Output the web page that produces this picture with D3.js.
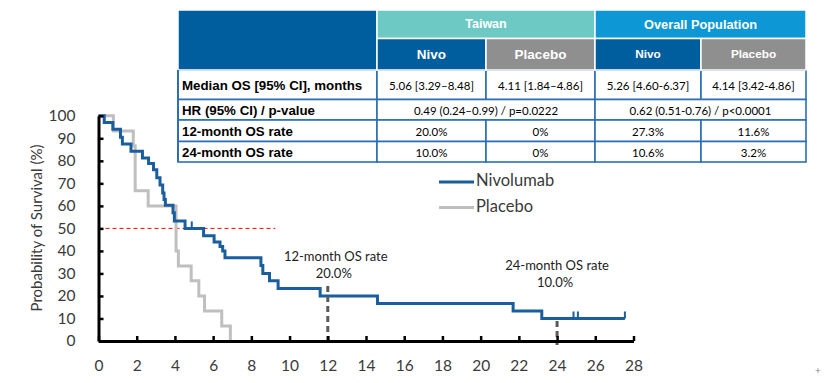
<!DOCTYPE html>
<html><head><meta charset="utf-8">
<script src="https://cdn.jsdelivr.net/npm/d3@7"></script>
<style>body{margin:0;background:#fff}svg{display:block}</style>
</head><body>
<svg id="c" width="825" height="383"></svg>
<script>
// ---------- DATA ----------
const xTicks = [0,2,4,6,8,10,12,14,16,18,20,22,24,26,28];
const yTicks = [0,10,20,30,40,50,60,70,80,90,100];
const nivoTime = [0,0.3,0.75,1.15,1.25,1.7,2.3,2.62,2.88,3.05,3.22,3.36,3.43,3.5,3.9,3.97,4.53,5.5,6.05,6.36,6.5,6.62,8.5,8.6,8.95,9.4,11.6,14.6,21.7,23.2,27.55];
const nivoSurv = [100,97,94,90.5,87.5,84.3,81.3,78.8,76,72.5,69.3,65.7,62.8,60.3,57,53.3,50,46.7,44,42,40,37,33.5,30,26.7,23.3,20,16.7,13.3,10,10];
const nivoCensorTime = [4.88,24.86,25.09,27.55];
const nivoCensorSurv = [50,10,10,10];
const placeboTime = [0,0.78,1.82,1.92,2.6,4.06,4.18,4.85,5.25,5.55,6.45,6.9];
const placeboSurv = [100,93.3,86.7,66.7,60,40,33.3,26.7,20,13.3,6.7,0];
const seriesNames = ["Nivolumab","Placebo"];
const medianLine = 50;
const osMonths = [12,24];
const osRates = ["20.0%","10.0%"];
const osRateValues = [20,10];

// table data
const groupNames = ["Taiwan","Overall Population"];
const armNames = ["Nivo","Placebo","Nivo","Placebo"];
const rowLabels = ["Median OS [95% CI], months","HR (95% CI) / p-value","12-month OS rate","24-month OS rate"];
const medianOS = ["5.06 [3.29\u20138.48]","4.11 [1.84\u20134.86]","5.26 [4.60-6.37]","4.14 [3.42-4.86]"];
const hrValues = ["0.49 (0.24\u20130.99) / p=0.0222","0.62 (0.51-0.76) / p<0.0001"];
const os12 = ["20.0%","0%","27.3%","11.6%"];
const os24 = ["10.0%","0%","10.6%","3.2%"];

// ---------- LAYOUT ----------
const svg = d3.select("#c");
svg.append("rect").attr("width",825).attr("height",383).attr("fill","#fff");
const x = d3.scaleLinear().domain([0,28]).range([98.5,633.5]);
const y = d3.scaleLinear().domain([0,100]).range([341,115.8]);
const FONT = "Lato, 'Open Sans', sans-serif";
const BLUE = "#1b5e9e", GREY = "#bfbfbf", TXT = "#3a3a3a";

// red dashed median line
svg.append("line").attr("x1",x(0)).attr("x2",x(9.25)).attr("y1",y(medianLine)).attr("y2",y(medianLine))
  .attr("stroke","#ff0000").attr("stroke-width",1).attr("stroke-dasharray","4,3");

// curves
const line = d3.line().x(d=>x(d[0])).y(d=>y(d[1])).curve(d3.curveStepAfter);
svg.append("path").datum(d3.zip(placeboTime,placeboSurv)).attr("d",line)
  .attr("fill","none").attr("stroke",GREY).attr("stroke-width",3);
svg.append("path").datum(d3.zip(nivoTime,nivoSurv)).attr("d",line)
  .attr("fill","none").attr("stroke",BLUE).attr("stroke-width",3);
svg.selectAll(".cens").data(d3.zip(nivoCensorTime,nivoCensorSurv)).join("line")
  .attr("x1",d=>x(d[0])).attr("x2",d=>x(d[0])).attr("y1",d=>y(d[1])).attr("y2",d=>y(d[1])-7)
  .attr("stroke",BLUE).attr("stroke-width",2);

// OS-rate dashed verticals
const dashTop = [y(osRateValues[0])-10, y(osRateValues[1])+2.5];
const dashBot = [y(0)+2, y(0)+4];
osMonths.forEach((m,i)=>{
  svg.append("line").attr("x1",x(m)).attr("x2",x(m)).attr("y1",dashTop[i]).attr("y2",dashBot[i])
    .attr("stroke","#5a5a5a").attr("stroke-width",3).attr("stroke-dasharray","6,4");
});
const annX = [x(osMonths[0])+8, x(osMonths[1])];
const annY = [261, 270];
osMonths.forEach((m,i)=>{
  svg.append("text").attr("x",annX[i]).attr("y",annY[i]).attr("text-anchor","middle")
    .attr("font-family",FONT).attr("font-size",13).attr("fill","#222").text(m+"-month OS rate");
  svg.append("text").attr("x",annX[i]-2).attr("y",annY[i]+17).attr("text-anchor","middle")
    .attr("font-family",FONT).attr("font-size",13).attr("fill","#222").text(osRates[i]);
});

// axes
const xAxis = svg.append("g").attr("transform",`translate(0,${y(0)})`)
  .call(d3.axisBottom(x).tickValues(xTicks).tickSize(-5).tickPadding(19).tickSizeOuter(0));
const yAxis = svg.append("g").attr("transform",`translate(${x(0)},0)`)
  .call(d3.axisLeft(y).tickValues(yTicks).tickSize(-5).tickPadding(23).tickSizeOuter(0));
[xAxis,yAxis].forEach(g=>{
  g.select(".domain").attr("stroke","#000").attr("stroke-width",3);
  g.selectAll(".tick line").attr("stroke","#000").attr("stroke-width",2.5);
  g.selectAll(".tick text").attr("font-family",FONT).attr("font-size",15.5).attr("fill",TXT);
});
svg.append("text").attr("transform",`translate(38,228) rotate(-90)`).attr("text-anchor","middle")
  .attr("dominant-baseline","middle").attr("font-family",FONT).attr("font-size",15).attr("fill",TXT)
  .text("Probability of Survival (%)");

// legend
const legColors = [BLUE, GREY];
seriesNames.forEach((n,i)=>{
  const ly = 182 + i*25.5;
  svg.append("line").attr("x1",439).attr("x2",474).attr("y1",ly).attr("y2",ly)
    .attr("stroke",legColors[i]).attr("stroke-width",3);
  svg.append("text").attr("x",476).attr("y",ly).attr("dominant-baseline","middle")
    .attr("font-family",FONT).attr("font-size",16.5).attr("fill",TXT).text(n);
});

// ---------- TABLE ----------
const colE = [178,377,486,595,701,806];
const rowE = [10,38.5,70,99.5,120,141.5,162];
const HDARK = "#005e9e", TEAL = "#6cc9c3", OVER = "#0d97d5", PGREY = "#8f8f8f", BORDER = "#2c6fb4";
const T = svg.append("g");
const AR = "'Liberation Sans', Arial, sans-serif";
function cell(x0,x1,y0,y1,fill,stroke,sw){
  T.append("rect").attr("x",x0).attr("y",y0).attr("width",x1-x0).attr("height",y1-y0)
   .attr("fill",fill).attr("stroke",stroke).attr("stroke-width",sw);
}
function txt(cx,cy,s,opt){
  T.append("text").attr("x",cx).attr("y",cy).attr("text-anchor",opt.anchor||"middle")
   .attr("dominant-baseline","central").attr("font-family",opt.font||AR)
   .attr("font-weight",opt.bold?"bold":"normal").attr("font-size",opt.size)
   .attr("fill",opt.fill||"#111").text(s);
}
// body
const bodyRows = [medianOS, null, os12, os24];
for(let r=0;r<4;r++){
  const y0=rowE[r+2], y1=rowE[r+3];
  cell(colE[0],colE[1],y0,y1,"#fff",BORDER,1.6);
  txt(colE[0]+4,(y0+y1)/2+0.5,rowLabels[r],{anchor:"start",bold:true,size:13.3,fill:"#000"});
  if(r===1){
    for(let g=0;g<2;g++){
      cell(colE[1+2*g],colE[3+2*g],y0,y1,"#fff",BORDER,1.6);
      txt((colE[1+2*g]+colE[3+2*g])/2,(y0+y1)/2+0.5,hrValues[g],{size:11.5,font:FONT,fill:"#000"});
    }
  } else {
    for(let c=0;c<4;c++){
      cell(colE[c+1],colE[c+2],y0,y1,"#fff",BORDER,1.6);
      txt((colE[c+1]+colE[c+2])/2,(y0+y1)/2+0.5,bodyRows[r][c],{size:11.5,font:FONT,fill:"#000"});
    }
  }
}
// header
cell(colE[0],colE[1],rowE[0],rowE[2],HDARK,"#fff",1.5);
const gFill=[TEAL,OVER], gSize=[12.5,12.8];
groupNames.forEach((g,i)=>{
  cell(colE[1+2*i],colE[3+2*i],rowE[0],rowE[1],gFill[i],"#fff",1.5);
  txt((colE[1+2*i]+colE[3+2*i])/2,(rowE[0]+rowE[1])/2,g,{bold:true,size:gSize[i],fill:"#fff"});
});
const aFill=[HDARK,PGREY,HDARK,PGREY], aSize=[13.5,13.5,11.8,11.8];
armNames.forEach((a,i)=>{
  cell(colE[1+i],colE[2+i],rowE[1],rowE[2],aFill[i],"#fff",1.5);
  txt((colE[1+i]+colE[2+i])/2,(rowE[1]+rowE[2])/2,a,{bold:true,size:aSize[i],fill:"#fff"});
});
// outer left border of body
T.append("line").attr("x1",colE[0]).attr("x2",colE[0]).attr("y1",rowE[2]).attr("y2",rowE[6]).attr("stroke",BORDER).attr("stroke-width",2);

// small mark bottom-right
svg.append("text").attr("x",818).attr("y",374).attr("text-anchor","middle").attr("font-family",FONT)
  .attr("font-size",10).attr("fill","#888").text("+");
</script>
</body></html>
